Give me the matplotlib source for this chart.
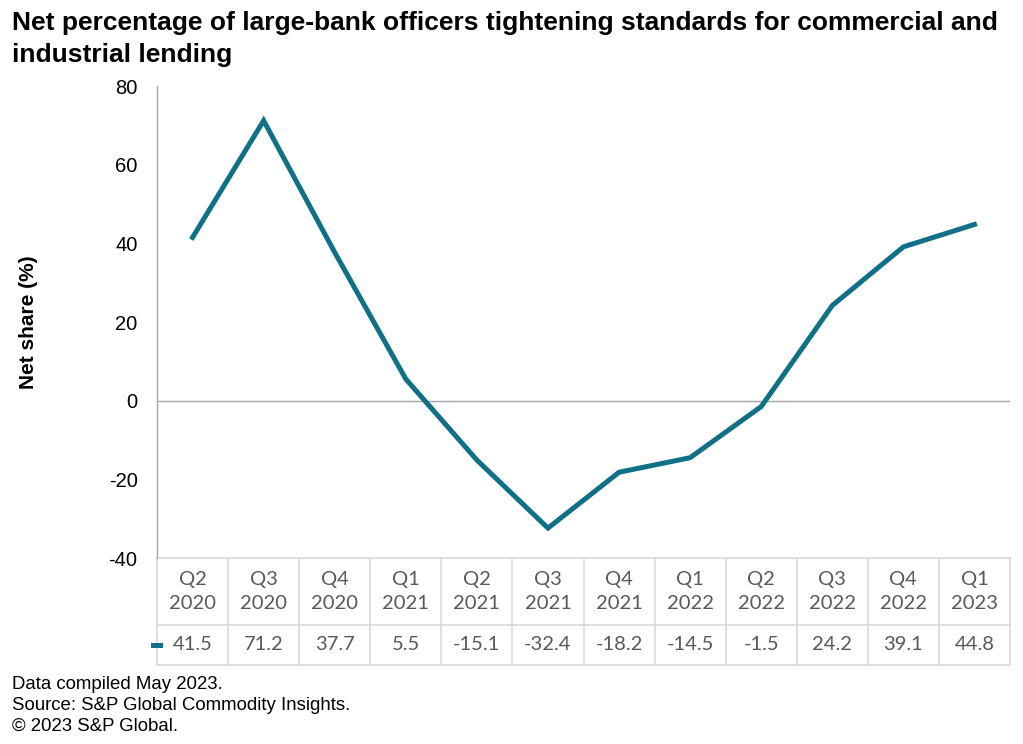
import matplotlib.pyplot as plt
from matplotlib.lines import Line2D

plt.rcParams['axes.unicode_minus'] = False

quarters = ['Q2', 'Q3', 'Q4', 'Q1', 'Q2', 'Q3', 'Q4', 'Q1', 'Q2', 'Q3', 'Q4', 'Q1']
years = ['2020', '2020', '2020', '2021', '2021', '2021', '2021', '2022', '2022', '2022', '2022', '2023']
net_share = [41.5, 71.2, 37.7, 5.5, -15.1, -32.4, -18.2, -14.5, -1.5, 24.2, 39.1, 44.8]

line_color = '#0F7088'
grid_color = '#D9D9D9'
table_font = ['Lato', 'DejaVu Sans']
arial = ['Liberation Sans', 'DejaVu Sans']

fig = plt.figure(figsize=(10.23, 7.44), dpi=100)
ax = fig.add_axes([157 / 1023, 1 - 558 / 744, (1010 - 157) / 1023, (558 - 86) / 744])

x = list(range(len(net_share)))
ax.plot(x, net_share, color=line_color, linewidth=3.6, solid_joinstyle='miter', zorder=3)
ax.axhline(0, color='#A6A6A6', linewidth=1.0, zorder=2)

ax.set_xlim(-0.5, len(net_share) - 0.5)
ax.set_ylim(-40, 80)
ax.set_yticks([-40, -20, 0, 20, 40, 60, 80])
ax.set_xticks([])
for s in ['top', 'right', 'bottom']:
    ax.spines[s].set_visible(False)
ax.spines['left'].set_color('#A6A6A6')
ax.spines['left'].set_linewidth(1.0)
ax.tick_params(axis='y', length=0, pad=14, labelsize=14.5)
for lab in ax.get_yticklabels():
    lab.set_fontfamily(arial)

ax.set_ylabel('Net share (%)', fontsize=15, fontweight='bold', family=arial, labelpad=51)

# data table under the plot
h = 558 - 86
row1 = -(625 - 558) / h
row2 = -(665 - 558) / h
tr = ax.get_xaxis_transform()
for yy in [0, row1, row2]:
    ax.add_line(Line2D([-0.5, len(net_share) - 0.5], [yy, yy], transform=tr,
                       color=grid_color, linewidth=1.2, clip_on=False))
for i in range(len(net_share) + 1):
    ax.add_line(Line2D([i - 0.5, i - 0.5], [0, row2], transform=tr,
                       color=grid_color, linewidth=1.2, clip_on=False))

for i in x:
    ax.text(i, row1 / 2, quarters[i] + '\n' + years[i], transform=tr, ha='center', va='center',
            fontsize=14.5, color='#595959', family=table_font, linespacing=1.5)
    ax.text(i, (row1 + row2) / 2, f'{net_share[i]}', transform=tr, ha='center', va='center',
            fontsize=14.5, color='#595959', family=table_font)

ax.add_line(Line2D([-0.56, -0.46], [(row1 + row2) / 2] * 2, transform=tr,
                   color=line_color, linewidth=3.6, clip_on=False))

fig.text(12 / 1023, 1 - 11 / 744,
         'Net percentage of large-bank officers tightening standards for commercial and\nindustrial lending',
         ha='left', va='top', fontsize=19, fontweight='bold', family=arial, linespacing=1.4)

fig.text(12 / 1023, 1 - 676 / 744,
         'Data compiled May 2023.\nSource: S&P Global Commodity Insights.\n\u00a9 2023 S&P Global.',
         ha='left', va='top', fontsize=13.4, family=arial, linespacing=1.3)

fig.savefig('out.png', dpi=100)
